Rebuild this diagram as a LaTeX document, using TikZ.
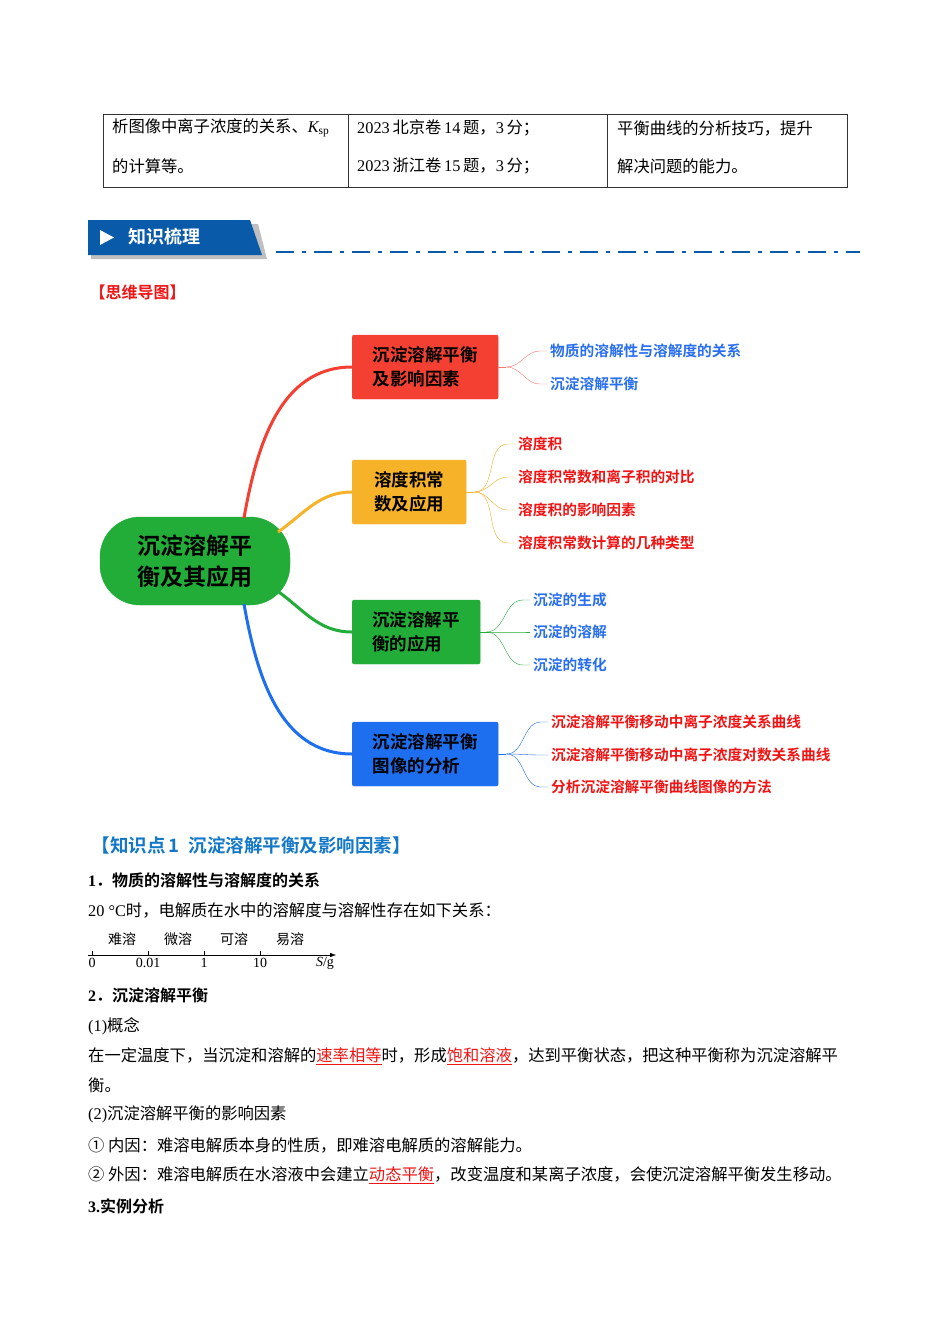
\documentclass[tikz,border=0pt]{standalone}
\usepackage{fontspec}
\setmainfont{Liberation Serif}
\newfontfamily\cjk{Noto Sans CJK SC}[BoldFont={Noto Sans CJK SC Bold}]
\usetikzlibrary{positioning, arrows.meta}
\definecolor{mapred}{RGB}{244,64,50}
\definecolor{mapyellow}{RGB}{246,178,40}
\definecolor{mapgreen}{RGB}{34,172,56}
\definecolor{mapblue}{RGB}{30,110,240}
\definecolor{leafblue}{RGB}{40,110,240}
\definecolor{leafred}{RGB}{240,20,20}
\definecolor{bannerblue}{RGB}{10,90,170}
\definecolor{ptblue}{RGB}{20,120,200}
\tikzset{
    body/.style={anchor=west, inner sep=0pt, font=\fontsize{16.3}{18}\selectfont\cjk},
    head/.style={anchor=west, inner sep=0pt, font=\fontsize{16}{18}\selectfont\cjk\bfseries},
    branch/.style={draw=#1, fill=#1, rounded corners=2pt, minimum height=64pt, align=left, inner xsep=18pt, font=\fontsize{17.5}{24}\selectfont\cjk\bfseries},
    leaf/.style={anchor=west, inner sep=0pt, text=#1, font=\fontsize{14.7}{17}\selectfont\cjk\bfseries},
    stem/.style={line width=3pt, #1},
    twig/.style={thin, #1}
}
\begin{document}
\begin{tikzpicture}[x=1pt, y=-1pt]
    \useasboundingbox (0,0) rectangle (950,1344);
    \fill[white] (0,0) rectangle (950,1344);

    % Table
    \draw[thick, black!80] (103,114) rectangle (847,187);
    \draw[black!80] (348,114) -- (348,187);
    \draw[black!80] (607,114) -- (607,187);
    \node[body] (t11) at (112,128) {析图像中离子浓度的关系、{\rmfamily\itshape K}\textsubscript{\rmfamily sp}};
    \node[body] (t12) at (112,166) {的计算等。};
    \node[body] (t21) at (357,128) {{\rmfamily 2023\,}北京卷{\rmfamily\,14\,}题，{\rmfamily 3\,}分；};
    \node[body] (t22) at (357,166) {{\rmfamily 2023\,}浙江卷{\rmfamily\,15\,}题，{\rmfamily 3\,}分；};
    \node[body] (t31) at (617,128) {平衡曲线的分析技巧，提升};
    \node[body] (t32) at (617,166) {解决问题的能力。};

    % Banner
    \fill[black!25] (91,224) -- (258,224) -- (267,259) -- (91,259) -- cycle;
    \fill[bannerblue] (88,220) -- (250,220) -- (262,255) -- (88,255) -- cycle;
    \fill[white] (100,230) -- (114,237.5) -- (100,245) -- cycle;
    \node[anchor=west, text=white, font=\fontsize{18}{20}\selectfont\cjk\bfseries] (banner) at (125,237) {知识梳理};
    \draw[bannerblue, line width=2.5pt, dash pattern=on 18pt off 8pt on 4pt off 8pt] (276,252) -- (860,252);

    \node[anchor=west, text=leafred, font=\fontsize{16}{18}\selectfont\cjk\bfseries] (maptitle) at (86,292) {【思维导图】};

    % Mind map
    \node[draw=mapgreen, fill=mapgreen, rounded corners=40pt, minimum width=190pt, minimum height=88pt, align=center,
          font=\fontsize{23}{31}\selectfont\cjk\bfseries] (root) at (195,561) {沉淀溶解平\\衡及其应用};
    \node[branch=mapred, anchor=west, minimum width=146pt, inner xsep=17pt] (b1) at (352,367) {沉淀溶解平衡\\及影响因素};
    \node[branch=mapyellow, anchor=west, minimum width=114pt] (b2) at (352,492) {溶度积常\\数及应用};
    \node[branch=mapgreen, anchor=west, minimum width=128pt] (b3) at (352,632) {沉淀溶解平\\衡的应用};
    \node[branch=mapblue, anchor=west, minimum width=146pt, inner xsep=17pt, text=black] (b4) at (352,754) {沉淀溶解平衡\\图像的分析};

    \draw[stem=mapred] (244,518) to[out=80,in=180] (b1.west);
    \draw[stem=mapyellow] (278,532) to[out=35,in=180] (b2.west);
    \draw[stem=mapgreen] (276,590) to[out=-35,in=180] (b3.west);
    \draw[stem=mapblue] (244,604) to[out=-80,in=180] (b4.west);

    % Leaves
    \node[leaf=leafblue] (l11) at (550,351) {物质的溶解性与溶解度的关系};
    \node[leaf=leafblue] (l12) at (550,384) {沉淀溶解平衡};
    \node[leaf=leafred] (l21) at (518,444) {溶度积};
    \node[leaf=leafred] (l22) at (518,477) {溶度积常数和离子积的对比};
    \node[leaf=leafred] (l23) at (518,510) {溶度积的影响因素};
    \node[leaf=leafred] (l24) at (518,543) {溶度积常数计算的几种类型};
    \node[leaf=leafblue] (l31) at (533,600) {沉淀的生成};
    \node[leaf=leafblue] (l32) at (533,632) {沉淀的溶解};
    \node[leaf=leafblue] (l33) at (533,665) {沉淀的转化};
    \node[leaf=leafred] (l41) at (551,722) {沉淀溶解平衡移动中离子浓度关系曲线};
    \node[leaf=leafred] (l42) at (551,755) {沉淀溶解平衡移动中离子浓度对数关系曲线};
    \node[leaf=leafred] (l43) at (551,787) {分析沉淀溶解平衡曲线图像的方法};

    \coordinate[right=8pt of b1] (j1);
    \coordinate[right=8pt of b2] (j2);
    \coordinate[right=6pt of b3] (j3);
    \coordinate[right=8pt of b4] (j4);
    \draw[twig=mapred!70] (b1.east) -- (j1);
    \draw[twig=mapyellow] (b2.east) -- (j2);
    \draw[twig=mapgreen] (b3.east) -- (j3);
    \draw[twig=mapblue] (b4.east) -- (j4);
    \foreach \l in {l11,l12}
        \draw[twig=mapred!70] (j1) to[out=0,in=180] ([xshift=-10pt]\l.west) -- ([xshift=-3pt]\l.west);
    \foreach \l in {l21,l22,l23,l24}
        \draw[twig=mapyellow] (j2) to[out=0,in=180] ([xshift=-10pt]\l.west) -- ([xshift=-3pt]\l.west);
    \foreach \l in {l31,l32,l33}
        \draw[twig=mapgreen] (j3) to[out=0,in=180] ([xshift=-10pt]\l.west) -- ([xshift=-3pt]\l.west);
    \foreach \l in {l41,l42,l43}
        \draw[twig=mapblue] (j4) to[out=0,in=180] ([xshift=-10pt]\l.west) -- ([xshift=-3pt]\l.west);

    % Knowledge point 1
    \node[anchor=west, text=ptblue, font=\fontsize{18.5}{20}\selectfont\cjk\bfseries] (kp1) at (88,845) {【知识点\,1\enspace 沉淀溶解平衡及影响因素】};
    \node[head] (h1) at (88,880) {{\rmfamily 1}．物质的溶解性与溶解度的关系};
    \node[body] (p1) at (88,910) {{\rmfamily 20 \textdegree C}时，电解质在水中的溶解度与溶解性存在如下关系：};

    % Solubility axis
    \coordinate (ax0) at (88,955);
    \coordinate (ax1) at (336,955);
    \draw[-{Latex[length=6pt]}] (ax0) -- (ax1);
    \foreach \x/\v/\w in {92/0/难溶, 148/0.01/微溶, 204/1/可溶, 260/10/易溶} {
        \draw (\x,955) -- (\x,951);
        \node[font=\fontsize{14}{16}\selectfont\rmfamily] (v\x) at (\x,963) {\v};
        \node[font=\fontsize{14}{16}\selectfont\cjk] (w\x) at (\x+30,939) {\w};
    }
    \node[font=\fontsize{14}{16}\selectfont\rmfamily] (unit) at (325,963) {\textit{S}/g};

    % Section 2
    \node[head] (h2) at (88,995) {{\rmfamily 2}．沉淀溶解平衡};
    \node[body] (p2) at (88,1026) {{\rmfamily (1)}概念};
    \node[body] (p3) at (88,1056) {在一定温度下，当沉淀和溶解的\textcolor{leafred}{\underline{速率相等}}时，形成\textcolor{leafred}{\underline{饱和溶液}}，达到平衡状态，把这种平衡称为沉淀溶解平};
    \node[body] (p4) at (88,1085) {衡。};
    \node[body] (p5) at (88,1114) {{\rmfamily (2)}沉淀溶解平衡的影响因素};
    \node[body] (p6) at (88,1145) {① 内因：难溶电解质本身的性质，即难溶电解质的溶解能力。};
    \node[body] (p7) at (88,1175) {② 外因：难溶电解质在水溶液中会建立\textcolor{leafred}{\underline{动态平衡}}，改变温度和某离子浓度，会使沉淀溶解平衡发生移动。};
    \node[head] (h3) at (88,1206) {{\rmfamily 3.}实例分析};
\end{tikzpicture}
\end{document}
